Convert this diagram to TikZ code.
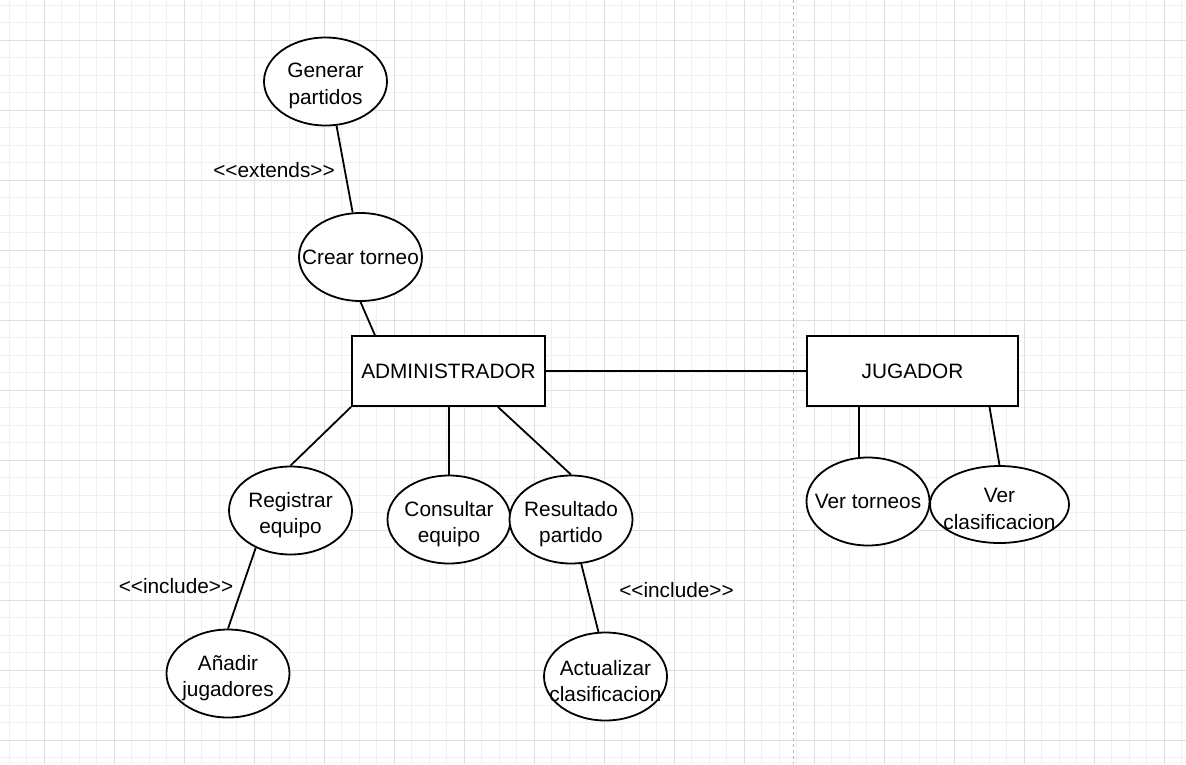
\documentclass[tikz,border=0pt]{standalone}
\usepackage{fontspec}
\setmainfont{Liberation Sans}
\usepackage{xcolor}
\usepackage{tikz}
\usetikzlibrary{shapes.geometric,calc}
\definecolor{gridminor}{HTML}{F0F0F0}
\definecolor{gridmajor}{HTML}{DEDEDE}
\definecolor{divider}{HTML}{B4B4B4}
\tikzset{
  uc/.style={ellipse, draw=black, line width=1.8pt, fill=white, inner sep=0pt,
    minimum width=123pt, minimum height=88pt},
  uctext/.style={align=center, inner sep=0pt},
  uctwo/.style={uctext, yshift=-4.5pt},
  actor/.style={rectangle, draw=black, line width=1.8pt, fill=white, inner sep=0pt},
  link/.style={draw=black, line width=1.8pt},
  stereo/.style={inner sep=0pt},
  every node/.style={font=\fontsize{20.8}{26.5}\selectfont, text=black}
}

\begin{document}
\begin{tikzpicture}[x=1pt, y=-1pt]
  \useasboundingbox (0,0) rectangle (1186,764);
  \fill[white] (0,0) rectangle (1186,764);
  % background grid
  \foreach \gx in {9.3,26.8,...,1186} \draw[gridminor, line width=1pt] (\gx,0) -- (\gx,764);
  \foreach \gy in {5,22.5,...,764} \draw[gridminor, line width=1pt] (0,\gy) -- (1186,\gy);
  \foreach \gx in {44.3,114.3,...,1186} \draw[gridmajor, line width=1pt] (\gx,0) -- (\gx,764);
  \foreach \gy in {40,110,...,764} \draw[gridmajor, line width=1pt] (0,\gy) -- (1186,\gy);
  \draw[divider, line width=1pt, dash pattern=on 3pt off 3pt] (793,0) -- (793,764);

  % actors
  \node[actor, minimum width=193pt, minimum height=70pt] (admin) at (448.5,371) {ADMINISTRADOR};
  \node[actor, minimum width=211pt, minimum height=70pt] (jugador) at (912.5,371) {JUGADOR};

  % use cases
  \node[uc, label={[uctwo]center:Generar\\partidos}] (generar) at (325.5,81.5) {};
  \node[uc, label={[uctext]center:Crear torneo}] (crear) at (360.5,257) {};
  \node[uc, label={[uctwo]center:Registrar\\equipo}] (registrar) at (290.5,510.5) {};
  \node[uc, label={[uctwo]center:Consultar\\equipo}] (consultar) at (449,519.5) {};
  \node[uc, label={[uctwo]center:Resultado\\partido}] (resultado) at (571,519.5) {};
  \node[uc, label={[uctwo]center:Añadir\\jugadores}] (anadir) at (228,673.5) {};
  \node[uc, label={[uctwo]center:Actualizar\\clasificacion}] (actualizar) at (605.5,676.5) {};
  \node[uc, label={[uctext]center:Ver torneos}] (vertorneos) at (868,501.5) {};
  \node[uc, minimum width=139pt, minimum height=77pt,
    label={[uctwo]center:Ver\\clasificacion}] (verclasif) at (999.5,504.5) {};

  % stereotypes
  \node[stereo] (extlab) at (274,170) {<{}<extends>{}>};
  \node[stereo] (inclab1) at (176,586) {<{}<include>{}>};
  \node[stereo] (inclab2) at (676.5,590) {<{}<include>{}>};

  % connectors
  \draw[link] (generar.-76) -- (crear.100);
  \draw[link] (crear.south) -- (admin.154);
  \draw[link] (admin.east) -- (jugador.west);
  \draw[link] (admin.south west) -- (registrar.north);
  \draw[link] (admin.south -| consultar.north) -- (consultar.north);
  \draw[link] (admin.-36) -- (resultado.north);
  \draw[link] (registrar.-133) -- (anadir.north);
  \draw[link] (resultado.-77) -- (actualizar.99);
  \draw[link] (jugador.south -| vertorneos.101) -- (vertorneos.101);
  \draw[link] (jugador.-25) -- (verclasif.north);
\end{tikzpicture}
\end{document}
